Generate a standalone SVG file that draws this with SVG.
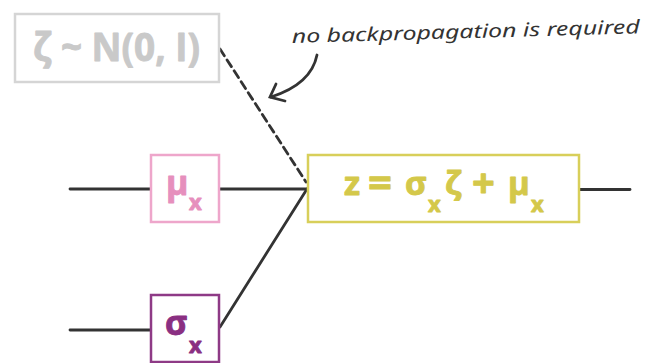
<svg xmlns="http://www.w3.org/2000/svg" width="659" height="363" viewBox="0 0 659 363">
<style>
.box{fill:#fff;stroke-width:2.5}
.lbl{font-family:"Open Sans","Noto Sans",sans-serif;font-weight:700;stroke-width:0.9;stroke-linejoin:round}
.ln{stroke:#333;stroke-width:2.8;fill:none;stroke-linecap:round}
.hand{font-family:"Noto Sans","DejaVu Sans",sans-serif;font-style:italic;fill:#333}
</style>
<rect width="659" height="363" fill="#fff"/>
<g id="connectors">
<line class="ln" x1="70" y1="189" x2="151" y2="189"/>
<line class="ln" x1="219" y1="189" x2="307" y2="189"/>
<line class="ln" x1="70" y1="330" x2="151" y2="330"/>
<line class="ln" x1="220" y1="327" x2="307" y2="189"/>
<line class="ln" x1="220" y1="49" x2="306" y2="182" stroke-dasharray="8,5" stroke-linecap="butt"/>
<line class="ln" x1="579" y1="189.5" x2="630" y2="189.5"/>
</g>
<g id="annotation">
<text class="hand" x="292" y="43" font-size="19" textLength="348" lengthAdjust="spacingAndGlyphs" transform="rotate(-1.6 292 43)">no backpropagation is required</text>
<path class="ln" d="M317,55 C313,75 296,89 271,97" stroke-width="3"/>
<path class="ln" d="M276,84 L270,97 L285,101" stroke-width="3"/>
</g>
<g id="zeta">
<rect class="box" x="15" y="14" width="204" height="68" stroke="#d5d5d5"/>
<text class="lbl" x="33" y="61" font-size="40" fill="#c9c9c9" stroke="#c9c9c9" textLength="167" lengthAdjust="spacingAndGlyphs">ζ ~ N(0, I)</text>
</g>
<g id="mu">
<rect class="box" x="151" y="155" width="68" height="67" stroke="#eea6cb"/>
<text class="lbl" fill="#e68fbd" stroke="#e68fbd"><tspan x="166" y="195" font-size="34">μ</tspan><tspan x="189" y="210" font-size="22">x</tspan></text>
</g>
<g id="sigma">
<rect class="box" x="151" y="295" width="68" height="67" stroke="#8e3a86"/>
<text class="lbl" fill="#8a2f82" stroke="#8a2f82"><tspan x="165" y="335" font-size="34">σ</tspan><tspan x="189" y="353" font-size="22">x</tspan></text>
</g>
<g id="z">
<rect class="box" x="308" y="155" width="271" height="67" stroke="#d8cf5a"/>
<text class="lbl" fill="#d4c84a" stroke="#d4c84a"><tspan x="344" y="195" font-size="33">z</tspan><tspan x="368" y="197" font-size="42">=</tspan><tspan x="405" y="195" font-size="33">σ</tspan><tspan x="428" y="212" font-size="22">x</tspan><tspan x="445" y="195" font-size="33">ζ</tspan><tspan x="472" y="197" font-size="40">+</tspan><tspan x="508" y="195" font-size="33">μ</tspan><tspan x="531" y="212" font-size="22">x</tspan></text>
</g>
</svg>
